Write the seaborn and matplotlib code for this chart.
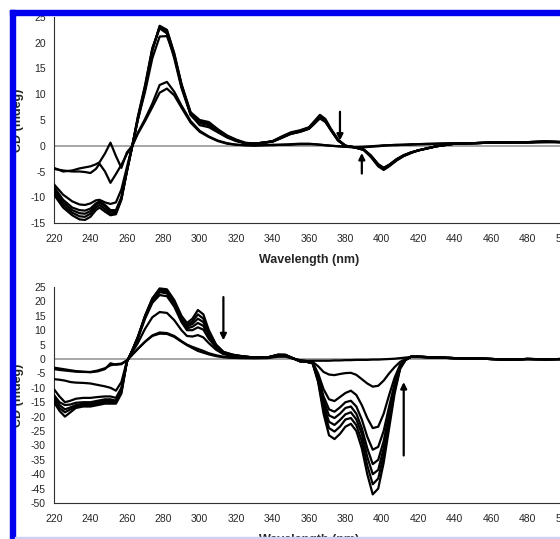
"""CD titration spectra: two stacked panels, cropped figure with a blue frame."""

import matplotlib

matplotlib.use("Agg")
import matplotlib.pyplot as plt
import numpy as np
import pandas as pd
import seaborn as sns
from matplotlib.patches import Rectangle

# ---------------------------------------------------------------- top panel
WL_TOP = [220, 225, 230, 234, 237, 240, 243, 245, 248, 251,
          254, 257, 260, 263, 266, 270, 274, 278, 282, 286,
          290, 295, 300, 305, 310, 315, 320, 325, 330, 335,
          340, 345, 350, 355, 360, 363, 366, 369, 372, 376,
          380, 385, 390, 394, 398, 401, 404, 408, 412, 416,
          420, 425, 430, 440, 450, 460, 470, 480, 490, 500]

TOP_H1 = [-9.5, -12.0, -13.5, -14.3, -14.4, -13.8, -12.5, -12.0, -12.8, -13.5,
          -13.3, -10.5, -5.0, 0.0, 5.0, 11.0, 18.5, 23.3, 22.5, 18.0,
          12.0, 6.5, 5.0, 4.6, 3.2, 2.0, 1.2, 0.6, 0.4, 0.6,
          0.9, 1.8, 2.6, 3.0, 3.6, 4.8, 6.0, 5.2, 3.3, 1.2,
          0.0, -0.3, -0.8, -2.2, -4.0, -4.7, -4.0, -2.9, -2.0, -1.4,
          -0.9, -0.5, -0.1, 0.4, 0.5, 0.6, 0.7, 0.7, 0.8, 0.7]
TOP_H2 = [-9.0, -11.5, -13.0, -13.7, -13.8, -13.2, -12.0, -11.5, -12.3, -13.2,
          -13.0, -10.3, -5.0, 0.0, 5.2, 11.2, 18.6, 23.1, 22.4, 17.8,
          11.8, 6.4, 4.8, 4.4, 3.0, 1.9, 1.1, 0.5, 0.4, 0.6,
          0.9, 1.7, 2.5, 2.9, 3.5, 4.6, 5.8, 5.0, 3.2, 1.1,
          0.0, -0.3, -0.8, -2.1, -3.8, -4.5, -3.9, -2.8, -2.0, -1.4,
          -0.9, -0.5, -0.1, 0.4, 0.5, 0.6, 0.7, 0.7, 0.8, 0.7]
TOP_H3 = [-8.5, -11.0, -12.5, -13.1, -13.2, -12.7, -11.5, -11.0, -11.8, -12.8,
          -12.8, -10.2, -5.0, 0.0, 5.4, 11.5, 18.8, 23.0, 22.0, 17.4,
          11.5, 6.2, 4.6, 4.2, 2.9, 1.8, 1.0, 0.5, 0.4, 0.6,
          0.8, 1.6, 2.4, 2.8, 3.4, 4.5, 5.5, 4.8, 3.1, 1.0,
          0.0, -0.3, -0.8, -2.0, -3.7, -4.4, -3.8, -2.7, -1.9, -1.3,
          -0.9, -0.5, -0.1, 0.4, 0.5, 0.6, 0.7, 0.7, 0.8, 0.7]
TOP_H4 = [-8.0, -10.5, -12.0, -12.5, -12.6, -12.2, -11.2, -10.8, -11.5, -12.5,
          -12.5, -10.0, -4.8, 0.0, 5.6, 11.8, 19.0, 22.8, 21.8, 17.0,
          11.2, 6.0, 4.4, 4.0, 2.8, 1.7, 1.0, 0.5, 0.4, 0.6,
          0.8, 1.6, 2.3, 2.7, 3.3, 4.3, 5.3, 4.6, 3.0, 1.0,
          0.0, -0.3, -0.7, -1.9, -3.6, -4.3, -3.7, -2.7, -1.9, -1.3,
          -0.9, -0.5, -0.1, 0.4, 0.5, 0.6, 0.7, 0.7, 0.8, 0.7]
TOP_H5 = [-7.5, -9.5, -10.8, -11.4, -11.5, -11.2, -10.6, -10.5, -11.0, -11.3,
          -11.0, -8.5, -4.2, 0.0, 5.0, 10.5, 17.0, 21.2, 21.3, 17.5,
          11.8, 6.0, 4.0, 3.6, 2.6, 1.6, 0.9, 0.5, 0.4, 0.6,
          0.8, 1.5, 2.3, 2.7, 3.3, 4.3, 5.5, 4.8, 3.1, 1.0,
          0.0, -0.3, -0.7, -1.9, -3.6, -4.3, -3.7, -2.6, -1.8, -1.3,
          -0.9, -0.5, -0.1, 0.4, 0.5, 0.6, 0.7, 0.7, 0.8, 0.7]
TOP_L1 = [-4.3, -5.0, -4.8, -4.4, -4.2, -4.0, -3.6, -3.2, -1.5, 0.6,
          -2.0, -4.3, -1.3, 0.0, 2.5, 5.2, 8.2, 11.8, 12.4, 10.5,
          7.8, 4.8, 2.9, 1.8, 1.0, 0.5, 0.2, 0.1, 0.1, 0.1,
          0.2, 0.2, 0.3, 0.4, 0.4, 0.3, 0.2, 0.1, 0.0, -0.1,
          -0.2, -0.3, -0.2, -0.1, 0.0, 0.1, 0.1, 0.2, 0.2, 0.3,
          0.3, 0.4, 0.4, 0.5, 0.5, 0.6, 0.6, 0.7, 0.7, 0.7]
TOP_L2 = [-4.5, -4.8, -5.0, -5.0, -5.1, -5.3, -4.5, -3.5, -5.0, -7.2,
          -5.5, -3.7, -1.6, 0.0, 2.3, 4.8, 7.5, 10.3, 11.1, 9.8,
          7.4, 4.5, 2.7, 1.7, 0.9, 0.4, 0.2, 0.1, 0.0, 0.1,
          0.1, 0.2, 0.2, 0.3, 0.3, 0.3, 0.2, 0.1, 0.0, -0.1,
          -0.2, -0.3, -0.3, -0.2, -0.1, 0.0, 0.1, 0.1, 0.2, 0.2,
          0.3, 0.3, 0.4, 0.5, 0.5, 0.6, 0.6, 0.6, 0.7, 0.7]

# ------------------------------------------------------------- bottom panel
WL_BOT = [220, 223, 226, 229, 232, 236, 240, 244, 248, 251,
          254, 257, 260, 263, 266, 270, 274, 278, 282, 286,
          290, 293, 296, 299, 302, 305, 309, 313, 318, 323,
          330, 337, 343, 347, 351, 355, 359, 362, 365, 368,
          371, 374, 377, 380, 383, 386, 389, 392, 395, 398,
          401, 404, 407, 410, 413, 416, 420, 430, 440, 450,
          460, 470, 480, 490, 500]

BOT_C0 = [-15.0, -18.0, -20.0, -18.5, -17.0, -16.5, -16.5, -16.0, -15.5, -15.5,
          -15.5, -12.0, -1.0, 3.0, 7.5, 15.0, 21.0, 24.5, 24.2, 20.5,
          15.0, 12.5, 14.0, 17.0, 15.5, 10.0, 5.0, 2.5, 1.5, 1.0,
          0.5, 0.5, 1.5, 1.5, 0.3, -0.8, -1.0, -1.5, -8.0, -19.0,
          -26.5, -27.8, -26.0, -23.5, -22.5, -25.0, -31.0, -40.0, -47.0, -45.0,
          -36.0, -24.0, -12.0, -3.5, -0.3, 0.8, 0.8, 0.5, 0.3, 0.2,
          0.0, -0.2, 0.0, -0.1, 0.0]
BOT_C1 = [-14.0, -17.0, -18.5, -17.5, -16.5, -16.0, -16.0, -15.5, -15.0, -15.0,
          -15.0, -11.5, -1.0, 3.0, 7.5, 15.0, 21.0, 24.2, 23.8, 20.0,
          14.5, 11.8, 13.0, 15.5, 14.0, 9.2, 4.8, 2.4, 1.5, 1.0,
          0.5, 0.5, 1.5, 1.4, 0.3, -0.8, -1.0, -1.5, -7.5, -17.5,
          -24.0, -25.2, -23.5, -21.0, -20.5, -23.0, -28.5, -37.0, -43.5, -41.5,
          -33.5, -22.0, -11.0, -3.2, -0.3, 0.8, 0.8, 0.5, 0.3, 0.2,
          0.0, -0.2, 0.0, -0.1, 0.0]
BOT_C2 = [-13.0, -16.0, -17.5, -16.8, -16.0, -15.5, -15.5, -15.0, -14.5, -14.5,
          -14.5, -11.0, -1.0, 3.0, 7.5, 14.8, 20.6, 23.8, 23.4, 19.6,
          14.0, 11.2, 12.2, 14.0, 12.8, 8.6, 4.6, 2.3, 1.4, 0.9,
          0.5, 0.5, 1.4, 1.4, 0.3, -0.8, -1.0, -1.4, -7.0, -16.0,
          -21.8, -22.9, -21.2, -19.2, -18.5, -21.0, -26.0, -34.0, -40.0, -38.5,
          -31.0, -20.5, -10.2, -3.0, -0.3, 0.8, 0.8, 0.5, 0.3, 0.2,
          0.0, -0.2, 0.0, -0.1, 0.0]
BOT_C3 = [-12.5, -15.0, -16.0, -15.8, -15.2, -15.0, -15.0, -14.5, -14.0, -14.0,
          -14.5, -10.5, -1.0, 3.0, 7.5, 14.5, 20.2, 23.2, 22.8, 19.0,
          13.5, 10.6, 11.2, 12.5, 11.5, 7.8, 4.3, 2.2, 1.4, 0.9,
          0.5, 0.5, 1.4, 1.3, 0.3, -0.7, -1.0, -1.4, -6.5, -14.5,
          -19.6, -20.5, -19.0, -17.0, -16.5, -19.0, -24.0, -31.0, -36.5, -35.0,
          -28.5, -19.0, -9.5, -2.8, -0.3, 0.8, 0.8, 0.5, 0.3, 0.2,
          0.0, -0.2, 0.0, -0.1, 0.0]
BOT_C4 = [-10.5, -13.0, -15.0, -14.5, -13.8, -13.5, -13.5, -13.2, -13.0, -13.0,
          -13.5, -10.0, -1.0, 2.8, 7.0, 14.0, 19.5, 22.2, 21.8, 18.2,
          12.8, 10.0, 10.0, 11.0, 10.2, 7.0, 4.0, 2.0, 1.3, 0.8,
          0.5, 0.5, 1.3, 1.3, 0.3, -0.7, -1.0, -1.3, -6.0, -13.0,
          -17.5, -18.3, -16.8, -15.0, -14.5, -16.5, -21.0, -27.0, -31.5, -30.5,
          -25.0, -16.5, -8.5, -2.5, -0.3, 0.8, 0.8, 0.5, 0.3, 0.2,
          0.0, -0.2, 0.0, -0.1, 0.0]
BOT_C5 = [-7.0, -7.2, -7.5, -8.0, -8.2, -8.3, -8.5, -9.0, -9.5, -10.0,
          -11.0, -8.0, -0.8, 2.4, 5.5, 10.5, 14.5, 16.3, 16.0, 13.5,
          10.0, 8.0, 7.8, 8.3, 7.5, 5.5, 3.2, 1.7, 1.0, 0.7,
          0.4, 0.5, 1.2, 1.2, 0.3, -0.6, -0.9, -1.2, -5.0, -10.5,
          -14.0, -14.6, -13.2, -11.8, -11.0, -12.5, -16.0, -20.5, -24.0, -23.5,
          -19.0, -12.5, -6.5, -2.0, -0.3, 0.8, 0.8, 0.5, 0.3, 0.2,
          0.0, -0.2, 0.0, -0.1, 0.0]
BOT_C6 = [-3.5, -3.8, -4.0, -4.2, -4.4, -4.5, -4.5, -4.0, -3.2, -2.2,
          -1.8, -1.6, -0.5, 1.5, 3.5, 6.0, 8.2, 9.2, 9.0, 8.0,
          6.2, 5.0, 4.2, 3.5, 2.8, 2.0, 1.3, 0.8, 0.5, 0.4,
          0.3, 0.4, 1.0, 1.0, 0.2, -0.5, -0.8, -1.0, -2.5, -4.5,
          -5.4, -5.6, -5.2, -4.9, -4.8, -5.5, -7.0, -8.5, -9.6, -9.3,
          -7.5, -5.0, -2.8, -1.0, 0.0, 0.7, 0.7, 0.5, 0.3, 0.2,
          0.0, -0.2, 0.0, -0.1, 0.0]
BOT_C7 = [-3.0, -3.3, -3.6, -3.9, -4.2, -4.4, -4.6, -4.3, -3.5, -1.5,
          -2.0, -1.8, -0.5, 1.5, 3.5, 6.0, 8.0, 8.8, 8.7, 7.7,
          6.0, 4.8, 3.8, 2.8, 2.2, 1.6, 1.0, 0.6, 0.4, 0.3,
          0.3, 0.3, 0.8, 0.8, 0.2, -0.4, -0.6, -0.6, -0.6, -0.6,
          -0.6, -0.5, -0.5, -0.4, -0.4, -0.3, -0.3, -0.3, -0.2, -0.2,
          -0.1, 0.0, 0.1, 0.3, 0.5, 0.7, 0.7, 0.5, 0.3, 0.2,
          0.0, -0.2, 0.0, -0.1, 0.0]

TOP_YTICKS = list(range(-15, 26, 5))
BOT_YTICKS = list(range(-50, 26, 5))
XTICKS = list(range(220, 501, 20))

# arrows (tail, head) in data units
TOP_ARROWS = [((377, 6.6), (377, 1.0)), ((389, -5.4), (389, -1.4))]
BOT_ARROWS = [((313, 21.5), (313, 6.5)), ((412, -33.5), (412, -8.0))]

W, H = 560, 539
BLUE = "#0000ee"


def _long(wl, curves):
    frames = [pd.DataFrame({"wl": wl, "cd": vals, "curve": i})
              for i, vals in enumerate(curves)]
    return pd.concat(frames, ignore_index=True)


def _panel(ax, df, ylim, yticks, arrows, xlabel_y):
    ax.axhline(0, color="#a0a0a0", lw=1.3, zorder=1)
    sns.lineplot(data=df, x="wl", y="cd", units="curve", estimator=None,
                 color="black", lw=1.6, ax=ax, zorder=3)
    ax.set_xlim(220, 500)
    ax.set_ylim(*ylim)
    ax.set_xticks(XTICKS)
    ax.set_yticks(yticks)
    for sp in ("top", "right"):
        ax.spines[sp].set_visible(False)
    for sp in ("left", "bottom"):
        ax.spines[sp].set_color("#303030")
        ax.spines[sp].set_linewidth(0.8)
    ax.tick_params(axis="both", labelsize=7.5, length=3, width=0.7,
                   color="#303030", direction="out")
    ax.tick_params(axis="x", pad=5)
    ax.tick_params(axis="y", pad=3)
    ax.set_xlabel("Wavelength (nm)", fontsize=9, fontweight="bold")
    ax.set_ylabel("CD (mdeg)", fontsize=9, fontweight="bold")
    ax.xaxis.set_label_coords(0.5, xlabel_y)
    ax.yaxis.set_label_coords(-0.058, 0.5)
    for tail, head in arrows:
        ax.annotate("", xy=head, xytext=tail,
                    arrowprops=dict(arrowstyle="-|>", color="black", lw=1.6,
                                    mutation_scale=9, shrinkA=0, shrinkB=0))


def main():
    sns.set_theme(style="white")
    plt.rcParams["font.family"] = ["Liberation Sans", "DejaVu Sans"]
    plt.rcParams["axes.unicode_minus"] = False  # plain hyphen minus like Excel

    fig = plt.figure(figsize=(W / 100, H / 100), dpi=100)
    fig.patch.set_facecolor("white")

    left, width = 54 / W, 510 / W
    ax_top = fig.add_axes([left, 1 - 223 / H, width, 206 / H])
    ax_bot = fig.add_axes([left, 1 - 503 / H, width, 216 / H])
    for ax in (ax_top, ax_bot):
        ax.set_facecolor("white")

    top = _long(WL_TOP, [TOP_H1, TOP_H2, TOP_H3, TOP_H4, TOP_H5,
                         TOP_L1, TOP_L2])
    bot = _long(WL_BOT, [BOT_C0, BOT_C1, BOT_C2, BOT_C3, BOT_C4, BOT_C5,
                         BOT_C6, BOT_C7])

    _panel(ax_top, top, (-15, 25), TOP_YTICKS, TOP_ARROWS, -0.15)
    _panel(ax_bot, bot, (-50, 25), BOT_YTICKS, BOT_ARROWS, -0.143)

    # blue frame of the original screenshot (top and left edges)
    fig.patches.append(Rectangle((10 / W, 1 - 15 / H), 1, 5 / H,
                                 transform=fig.transFigure, color=BLUE,
                                 zorder=5))
    fig.patches.append(Rectangle((10 / W, 0), 5 / W, 1 - 10 / H,
                                 transform=fig.transFigure, color=BLUE,
                                 zorder=5))
    fig.patches.append(Rectangle((15 / W, 0), 1, 2 / H,
                                 transform=fig.transFigure, color="#d0d0f4",
                                 zorder=5))

    fig.savefig("out.png", dpi=100, facecolor="white")
    plt.close(fig)


if __name__ == "__main__":
    main()
